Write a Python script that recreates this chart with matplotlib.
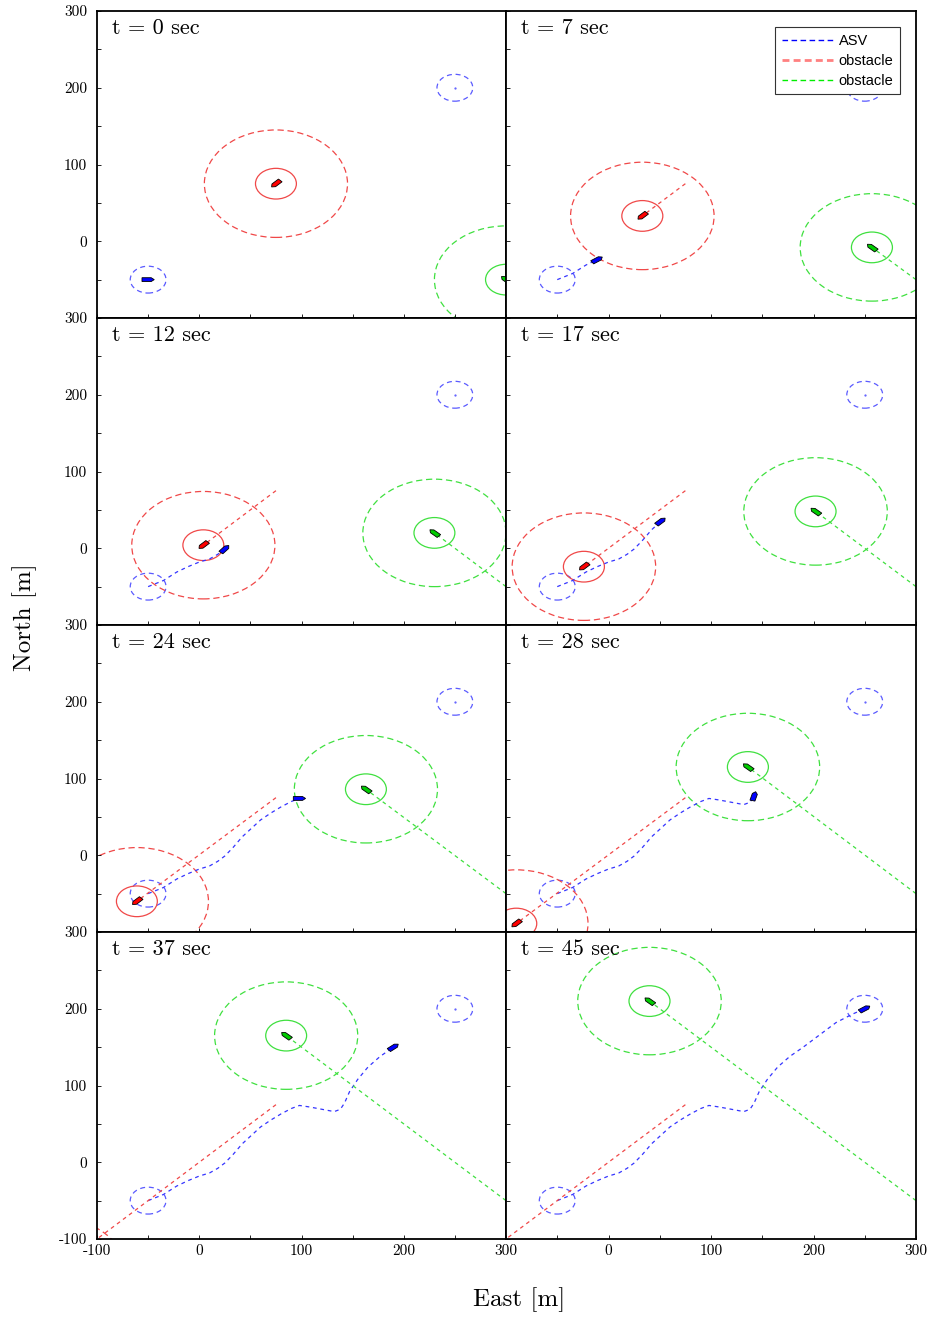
import numpy as np
import matplotlib
matplotlib.use('Agg')
import matplotlib.pyplot as plt
from matplotlib.patches import Circle
from matplotlib.lines import Line2D
from matplotlib.ticker import MultipleLocator, FuncFormatter

plt.rcParams['font.family'] = 'cmr10'
plt.rcParams['mathtext.fontset'] = 'cm'
plt.rcParams['axes.unicode_minus'] = False
plt.rcParams['axes.formatter.use_mathtext'] = True

# snapshot times
times = [0, 7, 12, 17, 24, 28, 37, 45]

# ASV path
path_x = [-50, -35, -22, -11, 0, 10, 18, 25, 33, 42, 51, 60, 70, 80, 90, 98,
          108, 120, 132, 138, 142, 147, 155, 165, 177, 190, 205, 222, 238, 250]
path_y = [-50, -42, -31, -24, -18, -14, -8, -1, 10, 24, 35, 46, 55, 63, 70, 74,
          72, 69, 66, 69, 77, 92, 108, 124, 138, 150, 165, 182, 193, 200]
# index of the ASV position in each snapshot, and its heading (deg)
asv_idx = [0, 3, 7, 10, 15, 20, 25, 29]
asv_heading = [0, 35, 50, 45, 0, 75, 40, 35]

# obstacles
red_x = [75, 33, 4, -24, -61, -90, -142, -195]
red_y = [75, 33, 4, -24, -60, -89, -142, -195]
red_start = (75, 75)
green_x = [300, 257, 230, 202, 163, 136, 85, 40]
green_y = [-50, -8, 20, 48, 86, 115, 165, 210]
green_start = (300, -50)

start = (-50, -50)
goal = (250, 200)
r_goal = 17.5
r_inner = 20
r_outer = 70

c_blue = '#3535ff'
c_blue_c = '#5a5aff'
c_red = '#f04848'
c_green = '#3fe03f'


def draw_ship(ax, x, y, heading, color):
    L, B = 12.0, 5.0
    hx = np.array([L / 2, L / 4, -L / 2, -L / 2, L / 4])
    hy = np.array([0, B / 2, B / 2, -B / 2, -B / 2])
    a = np.radians(heading)
    px = x + hx * np.cos(a) - hy * np.sin(a)
    py = y + hx * np.sin(a) + hy * np.cos(a)
    ax.fill(px, py, facecolor=color, edgecolor='black', lw=0.6, zorder=6)


fig = plt.figure(figsize=(9.34, 13.21), dpi=100)

lefts = [97 / 934, 506 / 934]
widths = [409 / 934, 410 / 934]
bottoms = [1 - 318 / 1321, 1 - 625 / 1321, 1 - 932 / 1321, 1 - 1239 / 1321]
height = 307 / 1321

axes = []
for k, t in enumerate(times):
    row, col = k // 2, k % 2
    ax = fig.add_axes([lefts[col], bottoms[row], widths[col], height])
    axes.append(ax)
    ax.set_xlim(-100, 300)
    ax.set_ylim(-100, 300)

    # start / goal circles
    ax.add_patch(Circle(start, r_goal, fill=False, ec=c_blue_c, lw=0.9, ls=(0, (4, 3))))
    ax.add_patch(Circle(goal, r_goal, fill=False, ec=c_blue_c, lw=0.9, ls=(0, (4, 3))))
    ax.plot(goal[0], goal[1], '.', color=c_blue_c, ms=1.2)

    # ASV path
    i = asv_idx[k]
    if i > 0:
        ax.plot(path_x[:i + 1], path_y[:i + 1], color=c_blue, lw=0.9, ls=(0, (3, 3)))
    draw_ship(ax, path_x[i], path_y[i], asv_heading[k], '#0000ff')

    # red obstacle
    rx, ry = red_x[k], red_y[k]
    if k > 0:
        ax.plot([red_start[0], rx], [red_start[1], ry], color=c_red, lw=0.9, ls=(0, (3, 3)))
    ax.add_patch(Circle((rx, ry), r_inner, fill=False, ec=c_red, lw=0.9))
    ax.add_patch(Circle((rx, ry), r_outer, fill=False, ec=c_red, lw=0.9, ls=(0, (5, 3))))
    draw_ship(ax, rx, ry, 225, '#ff0000')

    # green obstacle
    gx, gy = green_x[k], green_y[k]
    if k > 0:
        ax.plot([green_start[0], gx], [green_start[1], gy], color=c_green, lw=0.9, ls=(0, (3, 3)))
    ax.add_patch(Circle((gx, gy), r_inner, fill=False, ec=c_green, lw=0.9))
    ax.add_patch(Circle((gx, gy), r_outer, fill=False, ec=c_green, lw=0.9, ls=(0, (5, 3))))
    draw_ship(ax, gx, gy, 137, '#00cc00')

    ax.text(0.037, 0.945, 't = %d sec' % t, transform=ax.transAxes,
            fontsize=16, va='center', ha='left')

    # ticks
    ax.xaxis.set_major_locator(MultipleLocator(100))
    ax.xaxis.set_minor_locator(MultipleLocator(50))
    ax.yaxis.set_major_locator(MultipleLocator(100))
    ax.yaxis.set_minor_locator(MultipleLocator(50))
    ax.tick_params(which='both', direction='in', length=3, width=0.6,
                   top=False, right=False, labelsize=11)
    ax.tick_params(axis='y', pad=7)

    ylow = -100 if row == 3 else 0
    ax.yaxis.set_major_formatter(FuncFormatter(
        lambda v, p, lo=ylow: '%d' % v if v >= lo else ''))
    xlow = -100 if col == 0 else 0
    ax.xaxis.set_major_formatter(FuncFormatter(
        lambda v, p, lo=xlow: '%d' % v if v >= lo else ''))
    if col == 1:
        ax.tick_params(axis='y', labelleft=False)
    if row < 3:
        ax.tick_params(axis='x', labelbottom=False)

    for s in ax.spines.values():
        s.set_linewidth(1.3)

# legend on the second panel
handles = [
    Line2D([], [], color='#0000ff', lw=1.0, ls=(0, (4, 2.5))),
    Line2D([], [], color='#ff8080', lw=2.0, ls=(0, (2.5, 1.5))),
    Line2D([], [], color='#00ee00', lw=1.0, ls=(0, (4, 2.5))),
]
leg = axes[1].legend(handles, ['ASV', 'obstacle', 'obstacle'], loc='upper right',
                     prop={'family': 'Liberation Sans', 'size': 10.5},
                     frameon=True, fancybox=False, framealpha=1, edgecolor='#333333',
                     handlelength=3.5, handletextpad=0.4, labelspacing=0.42,
                     borderpad=0.45, borderaxespad=1.1)
leg.get_frame().set_linewidth(0.8)
leg.set_zorder(10)

fig.text(25 / 934, 1 - 617 / 1321, 'North [m]', rotation=90, fontsize=18,
         ha='center', va='center')
fig.text(519 / 934, 1 - 1300 / 1321, 'East [m]', fontsize=18,
         ha='center', va='center')

fig.savefig('out.png', dpi=100)
